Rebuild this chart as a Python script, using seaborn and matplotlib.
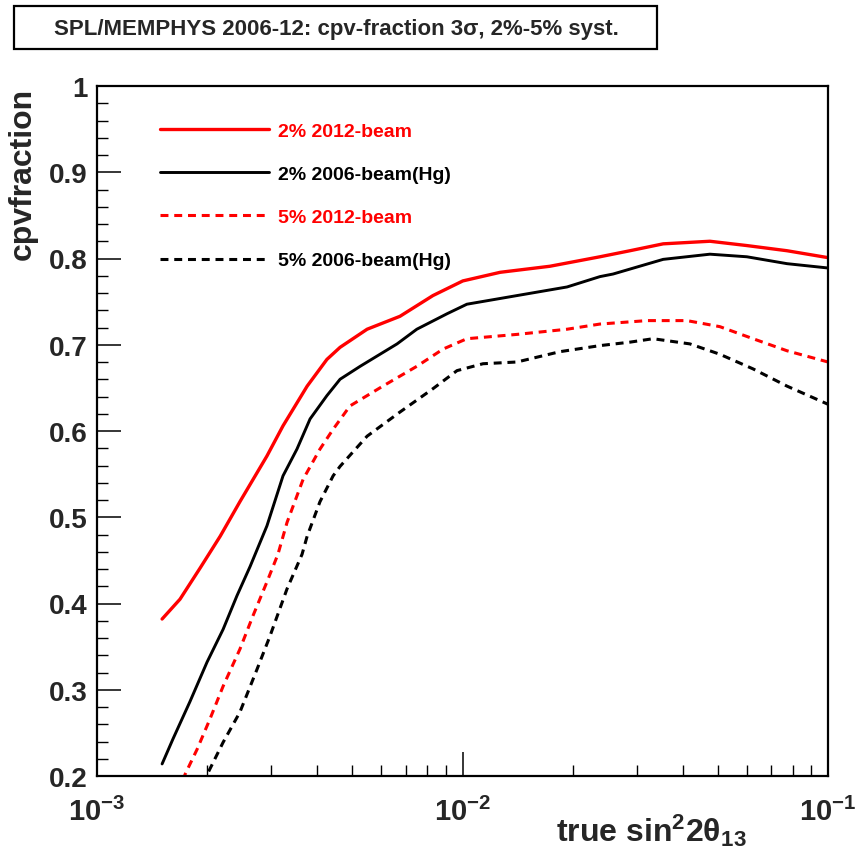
import numpy as np
import pandas as pd
import matplotlib
matplotlib.use("Agg")
import matplotlib.pyplot as plt
import seaborn as sns
from matplotlib.ticker import FixedLocator, FixedFormatter, LogLocator, NullFormatter, MultipleLocator

# ---------------- data ----------------
labels = ["2% 2012-beam", "2% 2006-beam(Hg)", "5% 2012-beam", "5% 2006-beam(Hg)"]

x_2pct_2012 = [0.001507, 0.001687, 0.001914, 0.002173, 0.00246, 0.002917, 0.003228, 0.003758,
               0.004256, 0.004624, 0.005483, 0.006745, 0.008299, 0.01002, 0.01268, 0.01734,
               0.02377, 0.02871, 0.0354, 0.04753, 0.05998, 0.07727, 0.1]
y_2pct_2012 = [0.382, 0.405, 0.441, 0.478, 0.518, 0.571, 0.606, 0.652,
               0.683, 0.697, 0.718, 0.733, 0.757, 0.774, 0.784, 0.791,
               0.802, 0.809, 0.817, 0.820, 0.815, 0.809, 0.801]

x_2pct_2006 = [0.001507, 0.001614, 0.001795, 0.002000, 0.002213, 0.002415, 0.002624, 0.002917,
               0.003228, 0.003524, 0.003828, 0.004256, 0.004624, 0.005248, 0.006622, 0.007499,
               0.009078, 0.01028, 0.01409, 0.01932, 0.02377, 0.02582, 0.0354, 0.04753,
               0.05998, 0.07727, 0.1]
y_2pct_2006 = [0.214, 0.243, 0.286, 0.332, 0.370, 0.409, 0.443, 0.490,
               0.548, 0.579, 0.614, 0.641, 0.660, 0.675, 0.701, 0.718,
               0.736, 0.747, 0.757, 0.767, 0.779, 0.782, 0.799, 0.805,
               0.802, 0.794, 0.789]

x_5pct_2012 = [0.001718, 0.001742, 0.001879, 0.002037, 0.002213, 0.00246, 0.002673, 0.002917,
               0.003126, 0.003311, 0.003664, 0.004074, 0.004426, 0.00492, 0.006053, 0.007499,
               0.00885, 0.01028, 0.01409, 0.01932, 0.02377, 0.03199, 0.04111, 0.05058,
               0.06237, 0.07727, 0.1]
y_5pct_2012 = [0.195, 0.202, 0.231, 0.266, 0.304, 0.347, 0.386, 0.425,
               0.457, 0.494, 0.544, 0.579, 0.602, 0.629, 0.652, 0.675,
               0.695, 0.707, 0.712, 0.718, 0.724, 0.728, 0.728, 0.721,
               0.707, 0.693, 0.680]

x_5pct_2006 = [0.001972, 0.002014, 0.002213, 0.00246, 0.002742, 0.002972, 0.003311, 0.003639,
               0.003758, 0.004074, 0.004426, 0.004624, 0.005483, 0.006745, 0.008299, 0.00966,
               0.01138, 0.01409, 0.01849, 0.02377, 0.02871, 0.0332, 0.04188, 0.05058,
               0.06237, 0.07727, 0.1]
y_5pct_2006 = [0.190, 0.204, 0.239, 0.274, 0.324, 0.362, 0.417, 0.457,
               0.478, 0.518, 0.548, 0.559, 0.594, 0.622, 0.649, 0.670,
               0.678, 0.680, 0.692, 0.699, 0.703, 0.707, 0.701, 0.689,
               0.672, 0.652, 0.631]

xtick_values = [1e-3, 1e-2, 1e-1]
xtick_labels = [r"$10^{-3}$", r"$10^{-2}$", r"$10^{-1}$"]
ytick_values = [0.2, 0.3, 0.4, 0.5, 0.6, 0.7, 0.8, 0.9, 1.0]
ytick_labels = ["0.2", "0.3", "0.4", "0.5", "0.6", "0.7", "0.8", "0.9", "1"]

# ---------------- style ----------------
sns.set_theme(style="white")
plt.rcParams["font.family"] = ["Liberation Sans", "DejaVu Sans"]
plt.rcParams["mathtext.fontset"] = "custom"
plt.rcParams["mathtext.rm"] = "Liberation Sans:bold"
plt.rcParams["mathtext.it"] = "Liberation Sans:bold"
plt.rcParams["mathtext.bf"] = "Liberation Sans:bold"
plt.rcParams["mathtext.default"] = "rm"

W, H = 855, 854
fig = plt.figure(figsize=(W / 100, H / 100), dpi=100)
L, R, T, B = 97, 828, 87, 777
ax = fig.add_axes([L / W, 1 - B / H, (R - L) / W, (B - T) / H])

series = [
    (x_2pct_2012, y_2pct_2012, "#ff0000", "-", 2.4),
    (x_2pct_2006, y_2pct_2006, "#000000", "-", 2.1),
    (x_5pct_2012, y_5pct_2012, "#ff0000", (0, (2.6, 1.9)), 2.2),
    (x_5pct_2006, y_5pct_2006, "#000000", (0, (2.6, 1.9)), 2.2),
]
for (xs, ys, col, ls, lw), lab in zip(series, labels):
    df = pd.DataFrame({"x": xs, "y": ys})
    sns.lineplot(data=df, x="x", y="y", ax=ax, color=col, linestyle=ls, lw=lw,
                 estimator=None, sort=False, label=lab)

ax.set_xscale("log")
ax.set_xlim(1e-3, 1e-1)
ax.set_ylim(0.2, 1.0)

# ticks (ROOT-like, inward, bottom/left only)
ax.xaxis.set_major_locator(FixedLocator(xtick_values))
ax.xaxis.set_major_formatter(FixedFormatter(xtick_labels))
ax.xaxis.set_minor_locator(LogLocator(base=10, subs=np.arange(2, 10), numticks=20))
ax.xaxis.set_minor_formatter(NullFormatter())
ax.yaxis.set_major_locator(FixedLocator(ytick_values))
ax.yaxis.set_major_formatter(FixedFormatter(ytick_labels))
ax.yaxis.set_minor_locator(MultipleLocator(0.02))
ax.tick_params(which="major", direction="in", length=17, width=1.1, color="black",
               bottom=True, left=True, top=False, right=False)
ax.tick_params(which="minor", direction="in", length=8, width=1.0, color="black",
               bottom=True, left=True, top=False, right=False)
ax.tick_params(axis="y", which="major", labelsize=20, pad=7)
ax.tick_params(axis="x", which="major", labelsize=21, pad=15)
for t in ax.get_yticklabels():
    t.set_fontweight("bold")
for s in ax.spines.values():
    s.set_linewidth(1.6)
    s.set_color("black")
    s.set_visible(True)
ax.grid(False)

ax.set_xlabel("")
ax.set_ylabel("")
fig.text(747 / W, 1 - 842 / H, r"true sin$^{2}$2$\theta_{13}$", ha="right", va="baseline",
         fontsize=23, fontweight="bold")
fig.text(23 / W, 1 - 88 / H, "cpvfraction", rotation=90, ha="center", va="top",
         fontsize=23, fontweight="bold")

# legend
leg = ax.legend(loc="upper left", bbox_to_anchor=(160 / W, 1 - 123 / H),
                bbox_transform=fig.transFigure, frameon=False,
                prop={"weight": "bold", "size": 14}, handlelength=5.6, handletextpad=0.45,
                labelspacing=1.32, borderpad=0, borderaxespad=0, labelcolor="linecolor")

# title box
fig.add_artist(plt.Rectangle((14 / W, 1 - 50 / H), 643 / W, 43 / H, transform=fig.transFigure,
                             fill=False, edgecolor="black", lw=1.6))
fig.text(336 / W, 1 - 29 / H, "SPL/MEMPHYS 2006-12: cpv-fraction 3σ, 2%-5% syst.",
         ha="center", va="center", fontsize=16, fontweight="bold")

fig.savefig("out.png", dpi=100)
